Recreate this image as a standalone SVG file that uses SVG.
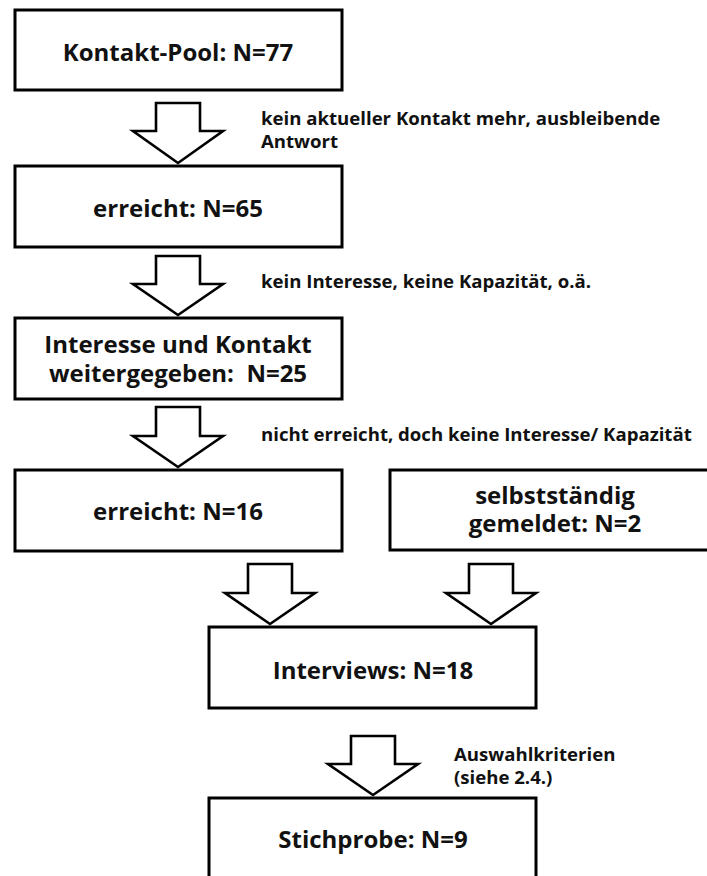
<svg xmlns="http://www.w3.org/2000/svg" width="707" height="876" viewBox="0 0 707 876">
<style>
.box{fill:#fff;stroke:#000;stroke-width:3}
.arr{fill:#fff;stroke:#000;stroke-width:2.6;stroke-linejoin:miter}
.t{font-family:"Open Sans","Noto Sans","DejaVu Sans",sans-serif;font-weight:bold;font-size:24px;fill:#111;text-anchor:middle}
.l{font-family:"Open Sans","Noto Sans","DejaVu Sans",sans-serif;font-weight:bold;font-size:18.6px;fill:#111}
</style>
<rect width="707" height="876" fill="#fff"/>
<g id="connectors">
<polygon class="arr" points="156,103 200,103 200,131 223,131 178,163 133,131 156,131"/>
<polygon class="arr" points="156,256 200,256 200,284 223,284 178,315 133,284 156,284"/>
<polygon class="arr" points="156,407 200,407 200,436 223,436 178,467 133,436 156,436"/>
<polygon class="arr" points="248,564 292,564 292,593 315,593 270,624 225,593 248,593"/>
<polygon class="arr" points="469,564 513,564 513,593 536,593 491,624 446,593 469,593"/>
<polygon class="arr" points="351,736 395,736 395,764 418,764 373,795 328,764 351,764"/>
<text class="l" x="261" y="125">kein aktueller Kontakt mehr, ausbleibende</text>
<text class="l" x="261" y="148">Antwort</text>
<text class="l" x="261" y="288">kein Interesse, keine Kapazität, o.ä.</text>
<text class="l" x="261" y="441">nicht erreicht, doch keine Interesse/ Kapazität</text>
<text class="l" x="454" y="761">Auswahlkriterien</text>
<text class="l" x="454" y="784">(siehe 2.4.)</text>
</g>
<g id="n1"><rect class="box" x="15" y="10" width="327" height="80"/><text class="t" x="178" y="61">Kontakt-Pool: N=77</text></g>
<g id="n2"><rect class="box" x="15" y="166" width="327" height="81"/><text class="t" x="178" y="217">erreicht: N=65</text></g>
<g id="n3"><rect class="box" x="15" y="318" width="327" height="81"/><text class="t" x="178" y="353">Interesse und Kontakt</text><text class="t" x="178" y="382" xml:space="preserve">weitergegeben:  N=25</text></g>
<g id="n4"><rect class="box" x="15" y="470" width="327" height="81"/><text class="t" x="178" y="520">erreicht: N=16</text></g>
<g id="n5"><rect class="box" x="390" y="470" width="330" height="80"/><text class="t" x="555" y="504">selbstständig</text><text class="t" x="555" y="532">gemeldet: N=2</text></g>
<g id="n6"><rect class="box" x="209" y="627" width="327" height="81"/><text class="t" x="373" y="679">Interviews: N=18</text></g>
<g id="n7"><rect class="box" x="209" y="798" width="327" height="100"/><text class="t" x="373" y="848">Stichprobe: N=9</text></g>
</svg>
